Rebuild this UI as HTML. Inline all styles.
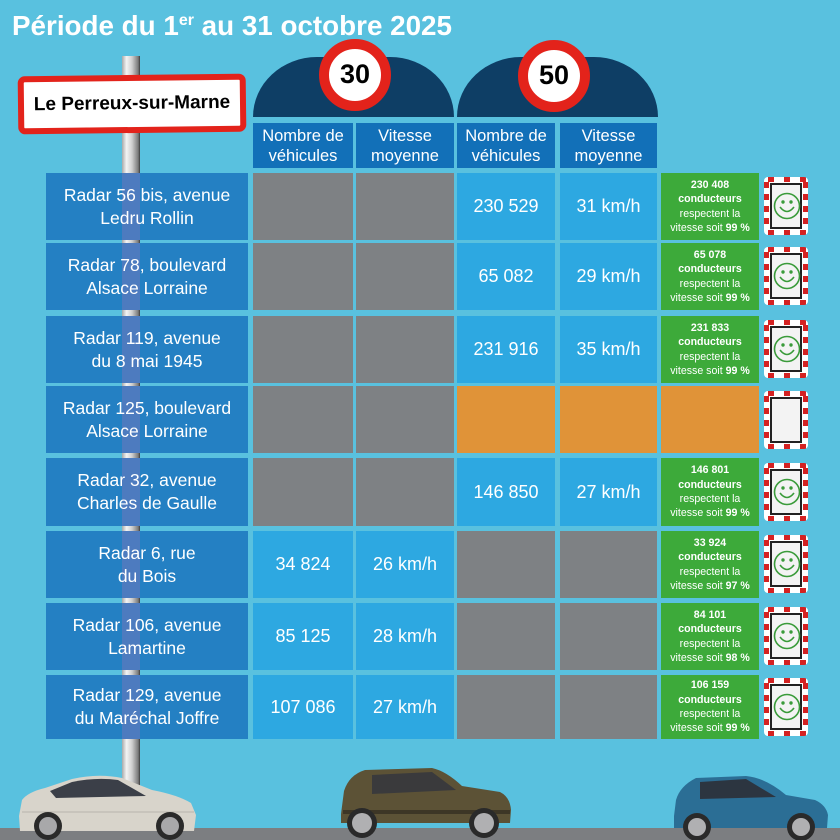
<!DOCTYPE html>
<html><head><meta charset="utf-8">
<style>
*{margin:0;padding:0;box-sizing:border-box}
html,body{width:840px;height:840px;overflow:hidden}
body{background:#59C1DF;position:relative;font-family:"Liberation Sans",Arial,sans-serif;color:#fff}
.a{position:absolute}
.title{left:12px;top:12px;font-size:27.8px;line-height:28px;font-weight:bold;white-space:nowrap;color:#fff}
.title sup{font-size:16px;vertical-align:0;position:relative;top:-10px}
.pole{left:122px;top:56px;width:18px;height:730px;background:linear-gradient(to right,#a9a9a9,#f4f4f4 25%,#d0d0d0 55%,#7a7a7a 90%,#3a3a3a)}
.sign{left:18px;top:75px;width:228px;height:58px;background:#fff;border:6px solid #E3231B;border-radius:7px;transform:rotate(-0.7deg);color:#000;font-weight:bold;font-size:19px;line-height:46px;text-align:center;white-space:nowrap}
.dome{width:201px;height:60px;top:57px;background:#0E3E65;border-radius:64px 64px 0 0/60px 60px 0 0}
.circ{width:72px;height:72px;border-radius:50%;background:#fff;border:10.5px solid #E3231B;color:#000;font-weight:bold;font-size:27px;line-height:51px;text-align:center}
.hd{top:123px;height:45px;background:#1270B8;font-size:16.5px;line-height:20px;text-align:center;display:flex;align-items:center;justify-content:center}
.lb{left:46px;width:202px;background:#2480C3;font-size:17.5px;line-height:23px;text-align:center;display:flex;align-items:center;justify-content:center;white-space:nowrap}
.lb span{position:relative;z-index:2}
.c{display:flex;align-items:center;justify-content:center;font-size:18px;white-space:nowrap}
.g{background:#7E8184}
.b{background:#2DA8E1}
.o{background:#E09338}
.gr{background:#3DAA3A;font-size:10.6px;line-height:14.4px;text-align:center;flex-direction:column}
.gr b{font-weight:bold}
.ps{left:764px;width:44px;height:58px;border-radius:4px;overflow:hidden;background:repeating-linear-gradient(to right,#fff 0 4px,#D42222 4px 10px,#fff 10px 16px)}
.ps .v{position:absolute;left:0;right:0;top:5px;bottom:5px;background:repeating-linear-gradient(to bottom,#D42222 0 6px,#fff 6px 12px)}
.ps .w{position:absolute;left:5px;right:5px;top:5px;bottom:5px;background:#fff}
.ps .in{position:absolute;left:6px;right:6px;top:6px;bottom:6px;background:#F3F3F3;border:2px solid #222}
.stripe{left:122px;width:18px;background:#4D7BBF}
</style></head><body>

<div class="a title">Période du 1<sup>er</sup> au 31 octobre 2025</div>

<div class="a pole"></div>

<div class="a dome" style="left:253px"></div>
<div class="a dome" style="left:457px"></div>
<div class="a circ" style="left:319px;top:39px">30</div>
<div class="a circ" style="left:518px;top:40px">50</div>

<div class="a sign">Le Perreux-sur-Marne</div>

<div class="a hd" style="left:253px;width:100px">Nombre de<br>véhicules</div>
<div class="a hd" style="left:356px;width:98px">Vitesse<br>moyenne</div>
<div class="a hd" style="left:457px;width:98px">Nombre de<br>véhicules</div>
<div class="a hd" style="left:560px;width:97px">Vitesse<br>moyenne</div>

<!-- pole through label column -->
<div class="a lb" style="top:173px;height:67px"></div>
<div class="a lb" style="top:243px;height:67px"></div>
<div class="a lb" style="top:316px;height:67px"></div>
<div class="a lb" style="top:386px;height:67px"></div>
<div class="a lb" style="top:458px;height:68px"></div>
<div class="a lb" style="top:531px;height:67px"></div>
<div class="a lb" style="top:603px;height:67px"></div>
<div class="a lb" style="top:675px;height:64px"></div>
<div class="a stripe" style="top:173px;height:67px"></div>
<div class="a stripe" style="top:243px;height:67px"></div>
<div class="a stripe" style="top:316px;height:67px"></div>
<div class="a stripe" style="top:386px;height:67px"></div>
<div class="a stripe" style="top:458px;height:68px"></div>
<div class="a stripe" style="top:531px;height:67px"></div>
<div class="a stripe" style="top:603px;height:67px"></div>
<div class="a stripe" style="top:675px;height:64px"></div>

<!-- Row 1 -->
<div class="a lb" style="top:173px;height:67px;background:transparent">Radar 56 bis, avenue<br>Ledru Rollin</div>
<div class="a c g" style="left:253px;top:173px;width:100px;height:67px"></div>
<div class="a c g" style="left:356px;top:173px;width:98px;height:67px"></div>
<div class="a c b" style="left:457px;top:173px;width:98px;height:67px">230 529</div>
<div class="a c b" style="left:560px;top:173px;width:97px;height:67px">31 km/h</div>
<div class="a c gr" style="left:661px;top:173px;width:98px;height:67px"><b>230 408</b><b>conducteurs</b><span>respectent la</span><span>vitesse soit <b>99 %</b></span></div>

<!-- Row 2 -->
<div class="a lb" style="top:243px;height:67px;background:transparent">Radar 78, boulevard<br>Alsace Lorraine</div>
<div class="a c g" style="left:253px;top:243px;width:100px;height:67px"></div>
<div class="a c g" style="left:356px;top:243px;width:98px;height:67px"></div>
<div class="a c b" style="left:457px;top:243px;width:98px;height:67px">65 082</div>
<div class="a c b" style="left:560px;top:243px;width:97px;height:67px">29 km/h</div>
<div class="a c gr" style="left:661px;top:243px;width:98px;height:67px"><b>65 078</b><b>conducteurs</b><span>respectent la</span><span>vitesse soit <b>99 %</b></span></div>

<!-- Row 3 -->
<div class="a lb" style="top:316px;height:67px;background:transparent">Radar 119, avenue<br>du 8 mai 1945</div>
<div class="a c g" style="left:253px;top:316px;width:100px;height:67px"></div>
<div class="a c g" style="left:356px;top:316px;width:98px;height:67px"></div>
<div class="a c b" style="left:457px;top:316px;width:98px;height:67px">231 916</div>
<div class="a c b" style="left:560px;top:316px;width:97px;height:67px">35 km/h</div>
<div class="a c gr" style="left:661px;top:316px;width:98px;height:67px"><b>231 833</b><b>conducteurs</b><span>respectent la</span><span>vitesse soit <b>99 %</b></span></div>

<!-- Row 4 -->
<div class="a lb" style="top:386px;height:67px;background:transparent">Radar 125, boulevard<br>Alsace Lorraine</div>
<div class="a c g" style="left:253px;top:386px;width:100px;height:67px"></div>
<div class="a c g" style="left:356px;top:386px;width:98px;height:67px"></div>
<div class="a c o" style="left:457px;top:386px;width:98px;height:67px"></div>
<div class="a c o" style="left:560px;top:386px;width:97px;height:67px"></div>
<div class="a c o" style="left:661px;top:386px;width:98px;height:67px"></div>

<!-- Row 5 -->
<div class="a lb" style="top:458px;height:68px;background:transparent">Radar 32, avenue<br>Charles de Gaulle</div>
<div class="a c g" style="left:253px;top:458px;width:100px;height:68px"></div>
<div class="a c g" style="left:356px;top:458px;width:98px;height:68px"></div>
<div class="a c b" style="left:457px;top:458px;width:98px;height:68px">146 850</div>
<div class="a c b" style="left:560px;top:458px;width:97px;height:68px">27 km/h</div>
<div class="a c gr" style="left:661px;top:458px;width:98px;height:68px"><b>146 801</b><b>conducteurs</b><span>respectent la</span><span>vitesse soit <b>99 %</b></span></div>

<!-- Row 6 -->
<div class="a lb" style="top:531px;height:67px;background:transparent">Radar 6, rue<br>du Bois</div>
<div class="a c b" style="left:253px;top:531px;width:100px;height:67px">34 824</div>
<div class="a c b" style="left:356px;top:531px;width:98px;height:67px">26 km/h</div>
<div class="a c g" style="left:457px;top:531px;width:98px;height:67px"></div>
<div class="a c g" style="left:560px;top:531px;width:97px;height:67px"></div>
<div class="a c gr" style="left:661px;top:531px;width:98px;height:67px"><b>33 924</b><b>conducteurs</b><span>respectent la</span><span>vitesse soit <b>97 %</b></span></div>

<!-- Row 7 -->
<div class="a lb" style="top:603px;height:67px;background:transparent">Radar 106, avenue<br>Lamartine</div>
<div class="a c b" style="left:253px;top:603px;width:100px;height:67px">85 125</div>
<div class="a c b" style="left:356px;top:603px;width:98px;height:67px">28 km/h</div>
<div class="a c g" style="left:457px;top:603px;width:98px;height:67px"></div>
<div class="a c g" style="left:560px;top:603px;width:97px;height:67px"></div>
<div class="a c gr" style="left:661px;top:603px;width:98px;height:67px"><b>84 101</b><b>conducteurs</b><span>respectent la</span><span>vitesse soit <b>98 %</b></span></div>

<!-- Row 8 -->
<div class="a lb" style="top:675px;height:64px;background:transparent">Radar 129, avenue<br>du Maréchal Joffre</div>
<div class="a c b" style="left:253px;top:675px;width:100px;height:64px">107 086</div>
<div class="a c b" style="left:356px;top:675px;width:98px;height:64px">27 km/h</div>
<div class="a c g" style="left:457px;top:675px;width:98px;height:64px"></div>
<div class="a c g" style="left:560px;top:675px;width:97px;height:64px"></div>
<div class="a c gr" style="left:661px;top:675px;width:98px;height:64px"><b>106 159</b><b>conducteurs</b><span>respectent la</span><span>vitesse soit <b>99 %</b></span></div>

<!-- speed display signs -->
<div class="a ps" style="top:177px"><div class="v"></div><div class="w"></div><div class="in"><svg width="28" height="42" viewBox="0 0 28 42" style="position:absolute;left:1px;top:0"><circle cx="14" cy="21" r="12.5" fill="none" stroke="#3A9B3A" stroke-width="1.6"/><circle cx="10" cy="17" r="1.7" fill="#3A9B3A"/><circle cx="18" cy="17" r="1.7" fill="#3A9B3A"/><path d="M7,22 Q14,31 21,22" fill="none" stroke="#3A9B3A" stroke-width="1.6"/></svg></div></div>
<div class="a ps" style="top:247px"><div class="v"></div><div class="w"></div><div class="in"><svg width="28" height="42" viewBox="0 0 28 42" style="position:absolute;left:1px;top:0"><circle cx="14" cy="21" r="12.5" fill="none" stroke="#3A9B3A" stroke-width="1.6"/><circle cx="10" cy="17" r="1.7" fill="#3A9B3A"/><circle cx="18" cy="17" r="1.7" fill="#3A9B3A"/><path d="M7,22 Q14,31 21,22" fill="none" stroke="#3A9B3A" stroke-width="1.6"/></svg></div></div>
<div class="a ps" style="top:320px"><div class="v"></div><div class="w"></div><div class="in"><svg width="28" height="42" viewBox="0 0 28 42" style="position:absolute;left:1px;top:0"><circle cx="14" cy="21" r="12.5" fill="none" stroke="#3A9B3A" stroke-width="1.6"/><circle cx="10" cy="17" r="1.7" fill="#3A9B3A"/><circle cx="18" cy="17" r="1.7" fill="#3A9B3A"/><path d="M7,22 Q14,31 21,22" fill="none" stroke="#3A9B3A" stroke-width="1.6"/></svg></div></div>
<div class="a ps" style="top:391px"><div class="v"></div><div class="w"></div><div class="in"></div></div>
<div class="a ps" style="top:463px"><div class="v"></div><div class="w"></div><div class="in"><svg width="28" height="42" viewBox="0 0 28 42" style="position:absolute;left:1px;top:0"><circle cx="14" cy="21" r="12.5" fill="none" stroke="#3A9B3A" stroke-width="1.6"/><circle cx="10" cy="17" r="1.7" fill="#3A9B3A"/><circle cx="18" cy="17" r="1.7" fill="#3A9B3A"/><path d="M7,22 Q14,31 21,22" fill="none" stroke="#3A9B3A" stroke-width="1.6"/></svg></div></div>
<div class="a ps" style="top:535px"><div class="v"></div><div class="w"></div><div class="in"><svg width="28" height="42" viewBox="0 0 28 42" style="position:absolute;left:1px;top:0"><circle cx="14" cy="21" r="12.5" fill="none" stroke="#3A9B3A" stroke-width="1.6"/><circle cx="10" cy="17" r="1.7" fill="#3A9B3A"/><circle cx="18" cy="17" r="1.7" fill="#3A9B3A"/><path d="M7,22 Q14,31 21,22" fill="none" stroke="#3A9B3A" stroke-width="1.6"/></svg></div></div>
<div class="a ps" style="top:607px"><div class="v"></div><div class="w"></div><div class="in"><svg width="28" height="42" viewBox="0 0 28 42" style="position:absolute;left:1px;top:0"><circle cx="14" cy="21" r="12.5" fill="none" stroke="#3A9B3A" stroke-width="1.6"/><circle cx="10" cy="17" r="1.7" fill="#3A9B3A"/><circle cx="18" cy="17" r="1.7" fill="#3A9B3A"/><path d="M7,22 Q14,31 21,22" fill="none" stroke="#3A9B3A" stroke-width="1.6"/></svg></div></div>
<div class="a ps" style="top:678px"><div class="v"></div><div class="w"></div><div class="in"><svg width="28" height="42" viewBox="0 0 28 42" style="position:absolute;left:1px;top:0"><circle cx="14" cy="21" r="12.5" fill="none" stroke="#3A9B3A" stroke-width="1.6"/><circle cx="10" cy="17" r="1.7" fill="#3A9B3A"/><circle cx="18" cy="17" r="1.7" fill="#3A9B3A"/><path d="M7,22 Q14,31 21,22" fill="none" stroke="#3A9B3A" stroke-width="1.6"/></svg></div></div>

<!-- road and cars -->
<svg class="a" style="left:0;top:740px" width="840" height="100" viewBox="0 740 840 100">
  <rect x="0" y="828" width="840" height="12" fill="#7C7E81"/>
  <!-- white car -->
  <path d="M19,816 L22,800 Q28,792 45,788 L72,779 Q98,773 122,778 L152,790 Q178,795 191,803 L196,815 L194,831 L20,831 Z" fill="#D8D4CB"/>
  <path d="M50,791 L72,782 Q96,777 118,780 L146,796 L56,798 Z" fill="#3B3F48"/>
  <path d="M22,812 L194,812" stroke="#b9b5ac" stroke-width="1"/>
  <circle cx="48" cy="826" r="14" fill="#2a2a2a"/><circle cx="48" cy="826" r="9" fill="#a8a8aa"/>
  <circle cx="170" cy="826" r="14" fill="#2a2a2a"/><circle cx="170" cy="826" r="9" fill="#a8a8aa"/>
  <!-- brown car -->
  <path d="M341,814 L344,791 Q349,775 365,770 L432,768 Q446,771 462,786 L500,792 Q510,797 511,810 L510,823 L341,823 Z" fill="#5C5236"/>
  <path d="M372,775 L432,772 L456,790 L372,794 Z" fill="#3A3A3C"/>
  <path d="M343,812 L510,812" stroke="#3d3626" stroke-width="4"/>
  <circle cx="362" cy="823" r="15" fill="#2a2a2a"/><circle cx="362" cy="823" r="10" fill="#b0b0b2"/>
  <circle cx="484" cy="823" r="15" fill="#2a2a2a"/><circle cx="484" cy="823" r="10" fill="#b0b0b2"/>
  <!-- blue car -->
  <path d="M674,816 L676,800 Q680,786 696,778 L746,776 Q766,778 786,795 L815,800 Q826,805 828,815 L827,828 L674,828 Z" fill="#2B6E95"/>
  <path d="M700,782 L746,779 L776,797 L700,799 Z" fill="#2C3540"/>
  <circle cx="697" cy="827" r="14" fill="#2a2a2a"/><circle cx="697" cy="827" r="9" fill="#b0b0b2"/>
  <circle cx="801" cy="827" r="14" fill="#2a2a2a"/><circle cx="801" cy="827" r="9" fill="#b0b0b2"/>
</svg>

</body></html>
